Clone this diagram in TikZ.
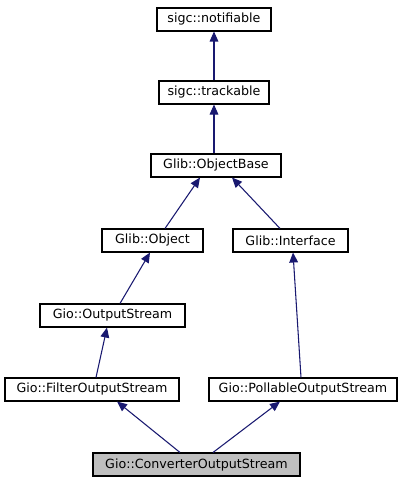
\documentclass[tikz,border=0pt]{standalone}
\usepackage{fontspec}
\setmainfont{DejaVu Sans}
\usetikzlibrary{arrows.meta}
\definecolor{edgeblue}{HTML}{191970}
\definecolor{leafgray}{HTML}{BFBFBF}
\begin{document}
\begin{tikzpicture}[x=0.75pt,y=-0.75pt,
  cls/.style={draw=black,fill=white,line width=0.8pt,minimum height=23*0.75pt,inner sep=0pt,font=\fontsize{9.5}{11}\selectfont},
  inh/.style={draw=edgeblue,line width=0.8pt,-{Triangle[length=7.5pt,width=6.5pt]},edgeblue}]
\useasboundingbox (0,0) rectangle (405,485);
\node[cls,minimum width=114*0.75pt] (nt) at (214,19.5) {sigc::notifiable};
\node[cls,minimum width=110*0.75pt] (tr) at (214,92.5) {sigc::trackable};
\node[cls,minimum width=130*0.75pt] (ob) at (216,165.5) {Glib::ObjectBase};
\node[cls,minimum width=101*0.75pt] (go) at (152.5,240.5) {Glib::Object};
\node[cls,minimum width=115*0.75pt] (gi) at (290.5,240.5) {Glib::Interface};
\node[cls,minimum width=145*0.75pt] (os) at (112.5,315.5) {Gio::OutputStream};
\node[cls,minimum width=174*0.75pt] (fo) at (92,389.5) {Gio::FilterOutputStream};
\node[cls,minimum width=188*0.75pt] (po) at (303,389.5) {Gio::PollableOutputStream};
\node[cls,fill=leafgray,minimum width=207*0.75pt] (co) at (196.5,464.5) {Gio::ConverterOutputStream};
\draw[inh] (tr.north) -- (nt.south);
\draw[inh] ([xshift=-2*0.75pt]ob.north) -- (tr.south);
\draw[inh] ([xshift=12.5*0.75pt]go.north) -- ([xshift=-16*0.75pt]ob.south);
\draw[inh] ([xshift=-10.5*0.75pt]gi.north) -- ([xshift=16*0.75pt]ob.south);
\draw[inh] ([xshift=7.5*0.75pt]os.north) -- ([xshift=-2.5*0.75pt]go.south);
\draw[inh] ([xshift=4*0.75pt]fo.north) -- ([xshift=-5.5*0.75pt]os.south);
\draw[inh] ([xshift=-2*0.75pt]po.north) -- ([xshift=2.5*0.75pt]gi.south);
\draw[inh] ([xshift=-16.5*0.75pt]co.north) -- ([xshift=25*0.75pt]fo.south);
\draw[inh] ([xshift=16.5*0.75pt]co.north) -- ([xshift=-23*0.75pt]po.south);
\end{tikzpicture}
\end{document}
